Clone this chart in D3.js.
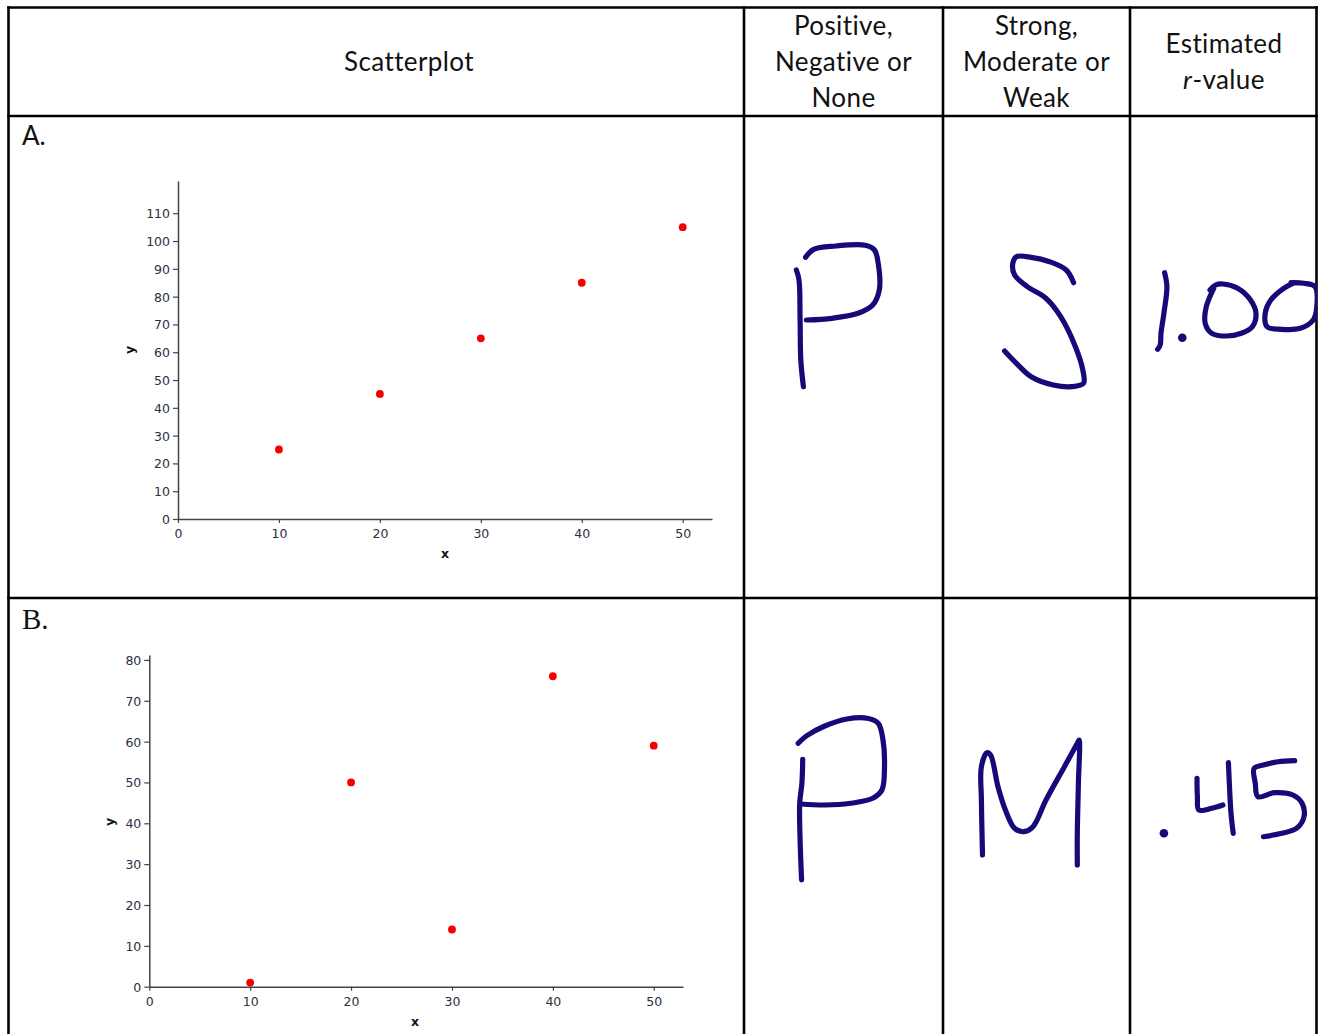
<!DOCTYPE html>
<html>
<head>
<meta charset="utf-8">
<script src="https://cdn.jsdelivr.net/npm/d3@7"></script>
<style>
  html, body { margin: 0; padding: 0; background: #fff; }
  svg { display: block; }
</style>
</head>
<body>
<svg id="chart" width="1318" height="1034"></svg>
<script>
// ---------------- DATA ----------------
const headerScatter = "Scatterplot";
const headerDirection = ["Positive,", "Negative or", "None"];
const headerStrength = ["Strong,", "Moderate or", "Weak"];
const headerR = ["Estimated", "r-value"];
const rowLabels = ["A.", "B."];

const xValues = [10, 20, 30, 40, 50];
const yValuesA = [25, 45, 65, 85, 105];
const yValuesB = [1, 50, 14, 76, 59];

const xTicks = [0, 10, 20, 30, 40, 50];
const yTicksA = [0, 10, 20, 30, 40, 50, 60, 70, 80, 90, 100, 110];
const yTicksB = [0, 10, 20, 30, 40, 50, 60, 70, 80];
const xDomainMax = 52.9;
const yDomainMaxA = 121.6;
const yDomainMaxB = 81.2;

const answersDirection = ["P", "P"];
const answersStrength = ["S", "M"];
const answersR = ["1.00", ".45"];

// ---------------- LAYOUT ----------------
const svg = d3.select("#chart");
const colEdges = [8.5, 744, 943, 1130, 1316.5];
const rowEdges = [7.5, 116, 598, 1040];
const ink = "#150a78";

// table lines
const grid = svg.append("g").attr("stroke", "#000").attr("stroke-width", 2.6);
colEdges.forEach(x => grid.append("line").attr("x1", x).attr("x2", x).attr("y1", rowEdges[0] - 1.3).attr("y2", 1040));
rowEdges.slice(0, 3).forEach(y => grid.append("line").attr("x1", colEdges[0] - 1.3).attr("x2", colEdges[4] + 1.3).attr("y1", y).attr("y2", y));

// header text
const hdrFont = "Lato, 'Open Sans', sans-serif";
const hdr = svg.append("g").attr("font-family", hdrFont).attr("font-size", 26).attr("letter-spacing", 0.4)
  .attr("fill", "#111").attr("text-anchor", "middle");
hdr.append("text").attr("x", 409).attr("y", 71).text(headerScatter);
headerDirection.forEach((t, i) => hdr.append("text").attr("x", 843.5).attr("y", 35 + i * 36).text(t));
headerStrength.forEach((t, i) => hdr.append("text").attr("x", 1036.5).attr("y", 35 + i * 36).text(t));
hdr.append("text").attr("x", 1224).attr("y", 53).text(headerR[0]);
const rv = hdr.append("text").attr("x", 1224).attr("y", 89);
rv.append("tspan").attr("font-style", "italic").text(headerR[1].slice(0, 1));
rv.append("tspan").text(headerR[1].slice(1));

// row labels
svg.append("text").attr("x", 22).attr("y", 145).attr("font-family", hdrFont).attr("font-size", 26).attr("fill", "#111").text(rowLabels[0]);
svg.append("text").attr("x", 22).attr("y", 629).attr("font-family", "'Liberation Serif', 'DejaVu Serif', serif").attr("font-size", 29).attr("fill", "#111").text(rowLabels[1]);

// ---------------- SCATTERPLOTS ----------------
function drawScatter(cfg) {
  const g = svg.append("g");
  const x = d3.scaleLinear().domain([0, xDomainMax]).range([cfg.left, cfg.right]);
  const y = d3.scaleLinear().domain([0, cfg.yMax]).range([cfg.bottom, cfg.top]);
  const tickFont = "'DejaVu Sans', Verdana, sans-serif";

  const xAxis = g.append("g").attr("transform", `translate(0,${cfg.bottom})`)
    .call(d3.axisBottom(x).tickValues(xTicks).tickSize(4).tickSizeOuter(0).tickPadding(6));
  const yAxis = g.append("g").attr("transform", `translate(${cfg.left},0)`)
    .call(d3.axisLeft(y).tickValues(cfg.yTicks).tickSize(5).tickSizeOuter(0).tickPadding(3));
  [xAxis, yAxis].forEach(a => {
    a.select(".domain").attr("stroke", "#444").attr("stroke-width", 1.5);
    a.selectAll(".tick line").attr("stroke", "#444").attr("stroke-width", 1.2);
    a.selectAll(".tick text").attr("fill", "#2e2e3e").attr("font-family", tickFont).attr("font-size", 12.5);
  });
  yAxis.selectAll(".tick text").attr("dy", "0.36em");

  g.append("text").attr("x", cfg.xLabelX).attr("y", cfg.bottom + 39)
    .attr("text-anchor", "middle").attr("font-family", tickFont).attr("font-size", 12.5).attr("font-weight", "bold")
    .attr("fill", "#111").text("x");
  g.append("text").attr("transform", `translate(${cfg.yLabelX},${cfg.yLabelY}) rotate(-90)`)
    .attr("text-anchor", "middle").attr("font-family", tickFont).attr("font-size", 12.5).attr("font-weight", "bold")
    .attr("fill", "#111").text("y");

  g.selectAll("circle").data(xValues.map((v, i) => [v, cfg.yValues[i]])).join("circle")
    .attr("cx", d => x(d[0])).attr("cy", d => y(d[1])).attr("r", 3.9).attr("fill", "#f40000");
}

drawScatter({ left: 178, right: 712, top: 181, bottom: 519, yMax: yDomainMaxA, yTicks: yTicksA, yValues: yValuesA, xLabelX: 445, yLabelX: 134, yLabelY: 350 });
drawScatter({ left: 149.3, right: 683, top: 655, bottom: 986.7, yMax: yDomainMaxB, yTicks: yTicksB, yValues: yValuesB, xLabelX: 415, yLabelX: 114, yLabelY: 822 });

// ---------------- HANDWRITTEN ANSWERS (pen strokes, cell-relative) ----------------
const penStrokes = {
  "A-P": [
    [[52.4,154],[55,164],[56.1,204],[56.8,244],[59.4,270.7]],
    [[61.6,141.3],[69.7,133.3],[91.8,130],[121.3,129.3],[130.5,134],[134.2,147.3],[135.3,174],[128.7,189],[114,197.3],[88.1,202.3],[62.3,204]]
  ],
  "A-S": [
    [[130.6,166.7],[123.2,154],[106.6,145.7],[88.2,141.3],[73.4,140.7],[69.8,147.3],[71.6,159],[84.5,170.7],[102.9,182.3],[117.7,200.7],[132.4,230.7],[139.8,254],[140.5,267.3],[128.7,270.7],[110.3,269],[88.2,260.7],[73.4,247.3],[61.6,235]]
  ],
  "A-R": [
    [[34.6,156.7],[36.9,170.7],[33.9,197.3],[31,217.3],[30.2,229],[27.6,233.3]],
    [[80,174],[85.5,169],[92.9,168],[107.6,172.3],[120.5,184],[126,197.3],[122.3,210.7],[111.3,217.3],[96.6,220],[81.8,217.3],[75.2,207.3],[76.3,190.7],[83.7,172.3]],
    [[161,166.7],[174,167.3],[185,170.7],[186.8,190.7],[183.2,204],[170.3,212.3],[151.8,213.3],[137.1,210.7],[135.2,197.3],[140.8,184],[153.7,172.3],[162.9,167.3]]
  ],
  "B-P": [
    [[58.7,161.3],[57.9,185.3],[55.7,205.3],[56.1,242],[57.6,282]],
    [[54.2,145.3],[62.3,138],[80.8,128],[102.9,121],[123.2,120.3],[134.2,125.3],[139,142],[140.5,168.7],[137.9,192],[128.7,200.3],[106.6,205.3],[80.8,207],[56.8,206]]
  ],
  "B-M": [
    [[39.5,257],[38.4,202],[38.4,168.7],[44,154.7],[47.6,157],[55,188.7],[62.4,212],[71.6,230.3],[80.8,233.7],[90,228.7],[103,202],[121.4,168.7],[134.3,145.3],[136.1,142],[135.4,185.3],[134.3,235.3],[134.3,267]]
  ],
  "B-R": [
    [[67,180.3],[67.4,198.7],[68.9,212],[81.8,210.3],[92.9,207]],
    [[98.4,164.7],[99.5,188.7],[101,215.3],[103.2,235.3]],
    [[164.7,162.7],[148.1,163.7],[133.4,167],[124.1,170.3],[125.3,185.3],[127.9,198.7],[144.5,194.7],[162.9,197],[172.1,205.3],[174,218.7],[166.6,230.3],[151.8,235.3],[133.4,238.7]]
  ]
};
const penDots = { "A-R": [[52.3,221.7]], "B-R": [[33.9,235.3]] };

const pen = d3.line().curve(d3.curveCatmullRom.alpha(0.5));
const cells = [
  { key: "A-P", col: 1, row: 1, text: answersDirection[0] },
  { key: "A-S", col: 2, row: 1, text: answersStrength[0] },
  { key: "A-R", col: 3, row: 1, text: answersR[0] },
  { key: "B-P", col: 1, row: 2, text: answersDirection[1] },
  { key: "B-M", col: 2, row: 2, text: answersStrength[1] },
  { key: "B-R", col: 3, row: 2, text: answersR[1] }
];
const clip = svg.append("defs").append("clipPath").attr("id", "pageclip");
clip.append("rect").attr("x", 0).attr("y", 0).attr("width", 1317).attr("height", 1034);
cells.forEach(c => {
  const g = svg.append("g")
    .attr("clip-path", "url(#pageclip)")
    .append("g")
    .attr("transform", `translate(${colEdges[c.col]},${rowEdges[c.row]})`)
    .attr("aria-label", c.text);
  g.append("title").text(c.text);
  g.selectAll("path").data(penStrokes[c.key]).join("path")
    .attr("d", pen).attr("fill", "none").attr("stroke", ink)
    .attr("stroke-width", 5.2).attr("stroke-linecap", "round").attr("stroke-linejoin", "round");
  (penDots[c.key] || []).forEach(d => g.append("circle").attr("cx", d[0]).attr("cy", d[1]).attr("r", 4.3).attr("fill", ink));
});
</script>
</body>
</html>
